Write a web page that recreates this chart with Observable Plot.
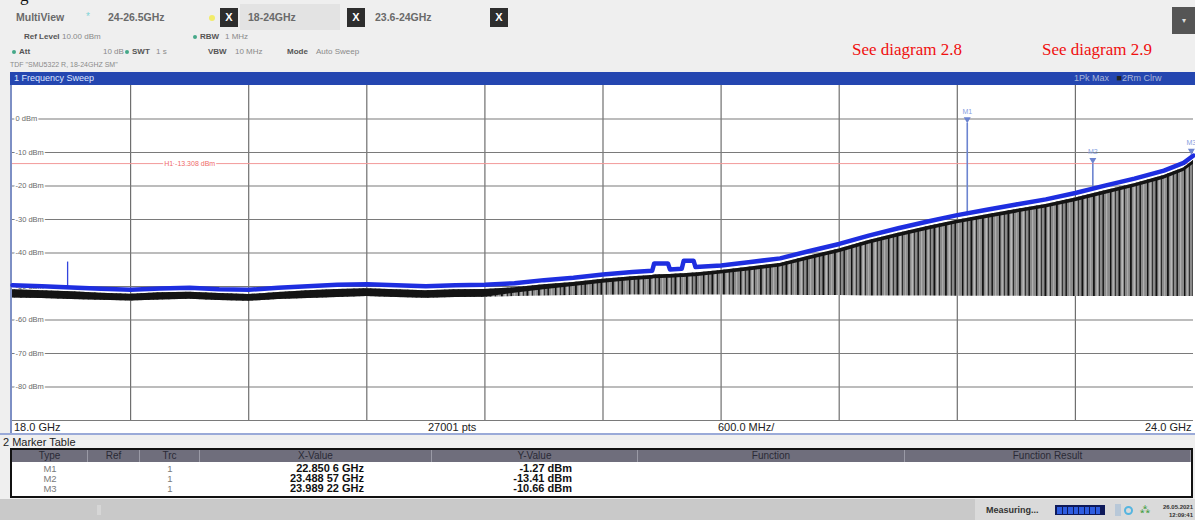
<!DOCTYPE html>
<html><head><meta charset="utf-8">
<script src="https://cdn.jsdelivr.net/npm/d3@7"></script>
<script src="https://cdn.jsdelivr.net/npm/@observablehq/plot@0.6"></script>
<style>
body{margin:0;width:1195px;height:520px;overflow:hidden;background:#efefef;font-family:"Liberation Sans",Arial,sans-serif;position:relative}
.a{position:absolute;white-space:nowrap;line-height:1}
.hb{font-weight:bold;color:#6a6a6a;font-size:10.5px}
.xb{position:absolute;width:18px;height:19px;background:#2e2e2e;color:#fff;font:bold 11px "Liberation Sans",Arial;text-align:center;line-height:19px}
.s{font-size:8px;color:#8a8a8a}
.sb{font-size:8px;color:#555;font-weight:bold}
.dot{position:absolute;width:4px;height:4px;border-radius:2px;background:#45a888}
.red{font-family:"Liberation Serif","Times New Roman",serif;font-size:17px;color:#f01010}
.th{position:absolute;top:0;height:12px;font-size:10px;color:#2a2a36;text-align:center;line-height:12px;border-right:1px solid #9a9aa6}
.cell{position:absolute;font-size:9.5px;line-height:9px;height:9px}
.val{position:absolute;font-size:11px;font-weight:bold;line-height:9px;height:9px;text-align:right;color:#111}
</style></head><body>
<div class="a red" style="left:20px;top:-13px;color:#111">g</div>
<!-- header -->
<div class="a" style="left:240px;top:4px;width:100px;height:26px;background:#e3e3e3"></div>
<div class="a hb" style="left:16px;top:12px">MultiView</div>
<div class="a" style="left:86px;top:12px;color:#7fd4d8;font-size:10px">*</div>
<div class="a hb" style="left:108px;top:12px">24-26.5GHz</div>
<div class="dot" style="left:209px;top:15px;width:6px;height:6px;border-radius:3px;background:#f2ec6a"></div>
<div class="xb" style="left:220px;top:8px">X</div>
<div class="a hb" style="left:248px;top:12px">18-24GHz</div>
<div class="xb" style="left:347px;top:8px">X</div>
<div class="a hb" style="left:375px;top:12px">23.6-24GHz</div>
<div class="xb" style="left:490px;top:8px">X</div>
<div class="a" style="left:1172px;top:7px;width:23px;height:27px;background:#555;color:#ddd;font-size:8px;text-align:center;line-height:27px">▾</div>

<div class="a sb" style="left:24px;top:33px">Ref Level</div>
<div class="a s" style="left:62px;top:33px">10.00 dBm</div>
<div class="dot" style="left:193px;top:35px"></div>
<div class="a sb" style="left:200px;top:33px">RBW</div>
<div class="a s" style="left:225px;top:33px">1 MHz</div>

<div class="dot" style="left:12px;top:50px"></div>
<div class="a sb" style="left:19px;top:48px">Att</div>
<div class="a s" style="left:103px;top:48px">10 dB</div>
<div class="dot" style="left:125px;top:50px"></div>
<div class="a sb" style="left:132px;top:48px">SWT</div>
<div class="a s" style="left:156px;top:48px">1 s</div>
<div class="a sb" style="left:208px;top:48px">VBW</div>
<div class="a s" style="left:235px;top:48px">10 MHz</div>
<div class="a sb" style="left:287px;top:48px">Mode</div>
<div class="a s" style="left:316px;top:48px">Auto Sweep</div>
<div class="a" style="left:10px;top:61px;font-size:7px;color:#8a8a8a">TDF "SMU5322 R, 18-24GHZ SM"</div>

<div class="a red" style="left:852px;top:41px">See diagram 2.8</div>
<div class="a red" style="left:1042px;top:41px">See diagram 2.9</div>

<!-- sweep title bar -->
<div class="a" style="left:10px;top:72px;width:1185px;height:13px;background:#2446b0"></div>
<div class="a" style="left:14px;top:74px;font-size:9px;color:#dfe6ff">1 Frequency Sweep</div>
<div class="a" style="left:1074px;top:74px;font-size:9px;color:#a9b6d8">1Pk Max &nbsp;&nbsp;<span style="color:#222">■</span>2Rm Clrw</div>

<!-- plot region -->
<div class="a" style="left:10px;top:85px;width:1185px;height:349px;background:#fff"></div>
<div class="a" style="left:10px;top:85px;width:2px;height:349px;background:#7d8fc4"></div>
<div id="chart" class="a" style="left:0;top:84px"></div>
<div class="a" style="left:14px;top:422px;font-size:11px;color:#222">18.0 GHz</div>
<div class="a" style="left:428px;top:422px;font-size:11px;color:#222">27001 pts</div>
<div class="a" style="left:718px;top:422px;font-size:11px;color:#222">600.0 MHz/</div>
<div class="a" style="left:1145px;top:422px;font-size:11px;color:#222">24.0 GHz</div>
<div class="a" style="left:0;top:433px;width:1195px;height:2px;background:#9aaad8"></div>

<!-- marker table -->
<div class="a" style="left:3px;top:437px;font-size:11px;color:#222">2 Marker Table</div>
<div class="a" style="left:10px;top:448px;width:1179px;height:46px;border:2px solid #111;background:#fff">
  <div class="a" style="left:0;top:0;width:1179px;height:12px;background:#6f6e7c"></div>
  <div id="thead"></div>
  <div id="tbody"></div>
</div>

<!-- status bar -->
<div class="a" style="left:0;top:499px;width:1195px;height:21px;background:#c9c9c9"></div>
<div class="a" style="left:975px;top:499px;width:220px;height:21px;background:#dadada"></div>
<div class="a" style="left:97px;top:505px;width:4px;height:10px;background:#d6d6d6"></div>
<div class="a" style="left:986px;top:506px;font-size:9px;font-weight:bold;color:#333">Measuring...</div>
<div class="a" style="left:1055px;top:505px;width:50px;height:10px;background:#0e1a5a;display:flex;gap:1px;padding:0 2px;box-sizing:border-box;align-items:center" id="prog"></div>
<div class="a" style="left:1115px;top:504px;width:6px;height:12px;background:#b8c8d8"></div>
<div class="a" style="left:1124px;top:506px;width:9px;height:9px;border-radius:5px;border:2px solid #55b5e0;box-sizing:border-box"></div>
<div class="a" style="left:1140px;top:505px;font-size:9px;color:#3a9a3a">⁂</div>
<div class="a" style="left:1158px;top:503px;font-size:6px;font-weight:bold;color:#333;text-align:right;width:35px;line-height:8px">26.05.2021<br>12:09:41</div>

<script>
// ---------- data ----------
const freqGHz = [18.00,18.15,18.30,18.45,18.60,18.75,18.90,19.05,19.20,19.35,19.50,19.65,19.80,19.95,20.10,20.25,20.40,20.55,20.70,20.85,21.00,21.15,21.25,21.26,21.33,21.34,21.40,21.41,21.46,21.47,21.60,21.75,21.90,22.05,22.20,22.35,22.50,22.65,22.80,22.95,23.10,23.25,23.40,23.55,23.70,23.85,23.95,24.00];
const maxHoldDbm = [-49.6,-49.9,-50.3,-50.7,-51.0,-50.6,-50.4,-50.8,-51.0,-50.4,-49.9,-49.5,-49.3,-49.6,-49.9,-49.6,-49.5,-49.0,-48.1,-47.4,-46.4,-45.7,-45.3,-43.1,-43.1,-44.9,-44.7,-42.3,-42.3,-44.2,-43.7,-42.7,-41.6,-39.4,-37.3,-34.8,-32.6,-30.6,-28.7,-27.1,-25.5,-24.0,-22.1,-19.9,-17.8,-15.4,-13.1,-10.9];
const clearWriteDbm = [-51.0,-51.3,-51.6,-52.0,-52.3,-51.9,-51.7,-52.1,-52.4,-51.8,-51.3,-50.9,-50.7,-51.0,-51.3,-51.0,-50.9,-50.4,-49.5,-48.8,-47.8,-47.1,-46.7,-46.6,-46.4,-46.4,-46.2,-46.2,-46.0,-46.0,-45.2,-44.2,-43.1,-40.9,-38.8,-36.3,-34.1,-32.1,-30.2,-28.6,-27.0,-25.5,-23.6,-21.4,-19.3,-16.9,-14.6,-12.4];
const denseLowDbm = [-53.4,-53.6,-53.9,-54.1,-54.3,-54.0,-53.8,-54.2,-54.4,-53.9,-53.6,-53.3,-53.0,-53.3,-53.5,-53.3,-53.2,-52.0,-51.0,-50.0,-49.0,-48.2,-47.8,-47.7,-47.5,-47.5,-47.3,-47.3,-47.1,-47.1,-46.3,-45.3,-44.2,-42.0,-39.9,-37.4,-35.2,-33.2,-31.3,-29.7,-28.1,-26.6,-24.7,-22.5,-20.4,-18.0,-15.7,-13.5];
const spikeFloorDbm = [-53.4,-53.6,-53.9,-54.1,-54.3,-54.0,-53.8,-54.2,-54.4,-53.9,-53.6,-53.3,-53.0,-53.3,-53.5,-53.3,-53.2,-53.0,-52.8,-52.7,-52.6,-52.5,-52.5,-52.5,-52.5,-52.5,-52.5,-52.5,-52.5,-52.5,-52.5,-52.6,-52.6,-52.7,-52.7,-52.8,-52.8,-52.8,-52.9,-52.9,-52.9,-53.0,-53.0,-53.0,-53.0,-53.0,-53.0,-53.0];

const spurFreq = [18.28];
const spurTop = [-42.7];
const spurBase = [-50.3];

const markerNames = ["M1","M2","M3"];
const markerFreq = [22.8506, 23.48857, 23.98922];
const markerLevel = [-1.27, -13.41, -10.66];
const markerBase = [-28.9, -21.0, -11.6];
const markerTrc = ["1","1","1"];
const markerXText = ["22.850 6 GHz","23.488 57 GHz","23.989 22 GHz"];
const markerYText = ["-1.27 dBm","-13.41 dBm","-10.66 dBm"];

const lineH1 = -13.308;
const lineH1Label = "H1 -13.308 dBm";

const xGrid = [18.6,19.2,19.8,20.4,21.0,21.6,22.2,22.8,23.4];
const yGrid = [0,-10,-20,-30,-40,-50,-60,-70,-80,-90];
const yTickLabels = ["0 dBm","-10 dBm","-20 dBm","-30 dBm","-40 dBm","-50 dBm","-60 dBm","-70 dBm","-80 dBm"];

const tableCols = ["Type","Ref","Trc","X-Value","Y-Value","Function","Function Result"];
const tableColEdges = [0,76,128,188,420,626,893,1179];

// ---------- build ----------
const trace = freqGHz.map((f,i)=>({f, maxh:maxHoldDbm[i], clr:clearWriteDbm[i], low:denseLowDbm[i], floor:spikeFloorDbm[i]}));
const spurs = spurFreq.map((f,i)=>({f, top:spurTop[i], base:spurBase[i]}));
const markers = markerNames.map((n,i)=>({n, f:markerFreq[i], lv:markerLevel[i], base:markerBase[i]}));
const yLabels = yTickLabels.map((t,i)=>({t, v:yGrid[i]}));

const chart = Plot.plot({
  width:1195, height:337,
  marginLeft:12, marginRight:2, marginTop:1, marginBottom:1,
  x:{domain:[18,24], axis:null},
  y:{domain:[-90,10], axis:null},
  style:{fontFamily:"Liberation Sans, Arial, sans-serif", background:"transparent", overflow:"hidden"},
  marks:[
    Plot.ruleX(xGrid,{stroke:"#6f6f6f", strokeWidth:1.2}),
    Plot.ruleY(yGrid,{stroke:"#7a7a7a", strokeWidth:1.2}),
    Plot.ruleY([lineH1],{stroke:"#f29a9a", strokeWidth:1}),
    Plot.text([lineH1Label],{x:18.9, y:lineH1, text:d=>d, fill:"#ef6a6a", stroke:"white", strokeWidth:3, fontSize:7, textAnchor:"middle"}),
    Plot.text(yLabels,{x:18, y:"v", text:"t", dx:3, textAnchor:"start", fill:"#6a6a6a", stroke:"white", strokeWidth:3, fontSize:7.5}),
    Plot.areaY(trace,{x:"f", y1:"floor", y2:"clr", fill:"url(#spk)", curve:"linear"}),
    Plot.areaY(trace,{x:"f", y1:"low", y2:"clr", fill:"#141414", curve:"linear"}),
    Plot.ruleX(spurs,{x:"f", y1:"base", y2:"top", stroke:"#3344dd", strokeWidth:1.3}),
    Plot.ruleX(markers,{x:"f", y1:"base", y2:"lv", stroke:"#6c84d0", strokeWidth:1.6}),
    Plot.line(trace,{x:"f", y:"maxh", stroke:"#1e2ee0", strokeWidth:4.5, curve:"linear"}),
    Plot.dot(markers,{x:"f", y:"lv", symbol:"triangle", rotate:180, r:2.6, fill:"#6c84d0", dy:-4}),
    Plot.text(markers,{x:"f", y:"lv", text:"n", dy:-12, fill:"#86a0e0", fontSize:7})
  ]
});
const ns="http://www.w3.org/2000/svg";
const defs=document.createElementNS(ns,"defs");
defs.innerHTML=`<pattern id="spk" patternUnits="userSpaceOnUse" width="37" height="400">
<rect x="0" y="0" width="37" height="400" fill="#8a8a8a"/>
<rect x="0" y="0" width="1.4" height="400" fill="#111"/>
<rect x="2.6" y="0" width="1.2" height="400" fill="#b8b8b8"/>
<rect x="5" y="0" width="1" height="400" fill="#333"/>
<rect x="8.5" y="0" width="1.8" height="400" fill="#111"/>
<rect x="11.5" y="0" width="1.4" height="400" fill="#c0c0c0"/>
<rect x="14" y="0" width="1" height="400" fill="#2a2a2a"/>
<rect x="17" y="0" width="1.2" height="400" fill="#aaaaaa"/>
<rect x="20" y="0" width="1.8" height="400" fill="#151515"/>
<rect x="23.5" y="0" width="1.4" height="400" fill="#bdbdbd"/>
<rect x="26" y="0" width="1" height="400" fill="#333"/>
<rect x="29.5" y="0" width="1.4" height="400" fill="#111"/>
<rect x="33" y="0" width="1.2" height="400" fill="#b0b0b0"/>
</pattern>`;
chart.prepend(defs);
document.getElementById("chart").appendChild(chart);

// table
const thead=document.getElementById("thead");
tableCols.forEach((c,i)=>{
  const d=document.createElement("div");
  d.className="th";
  d.style.left=tableColEdges[i]+"px";
  d.style.width=(tableColEdges[i+1]-tableColEdges[i]-1)+"px";
  d.textContent=c;
  thead.appendChild(d);
});
const tbody=document.getElementById("tbody");
markerNames.forEach((n,i)=>{
  const top=14+i*10;
  const add=(cls,txt,left,width,extra)=>{
    const d=document.createElement("div");
    d.className=cls; d.textContent=txt;
    d.style.top=top+"px"; d.style.left=left+"px"; d.style.width=width+"px";
    Object.assign(d.style,extra||{});
    tbody.appendChild(d);
  };
  add("cell",n,tableColEdges[0],tableColEdges[1]-tableColEdges[0],{textAlign:"center",color:"#7a7a7a"});
  add("cell",markerTrc[i],tableColEdges[2],tableColEdges[3]-tableColEdges[2],{textAlign:"center",color:"#7a7a7a"});
  add("val",markerXText[i],tableColEdges[3],164,{});
  add("val",markerYText[i],tableColEdges[4],140,{});
});
const prog=document.getElementById("prog");
for(let i=0;i<8;i++){const s=document.createElement("div");s.style.cssText="width:4.5px;height:7px;background:#2e5de0";prog.appendChild(s);}
</script>
</body></html>
